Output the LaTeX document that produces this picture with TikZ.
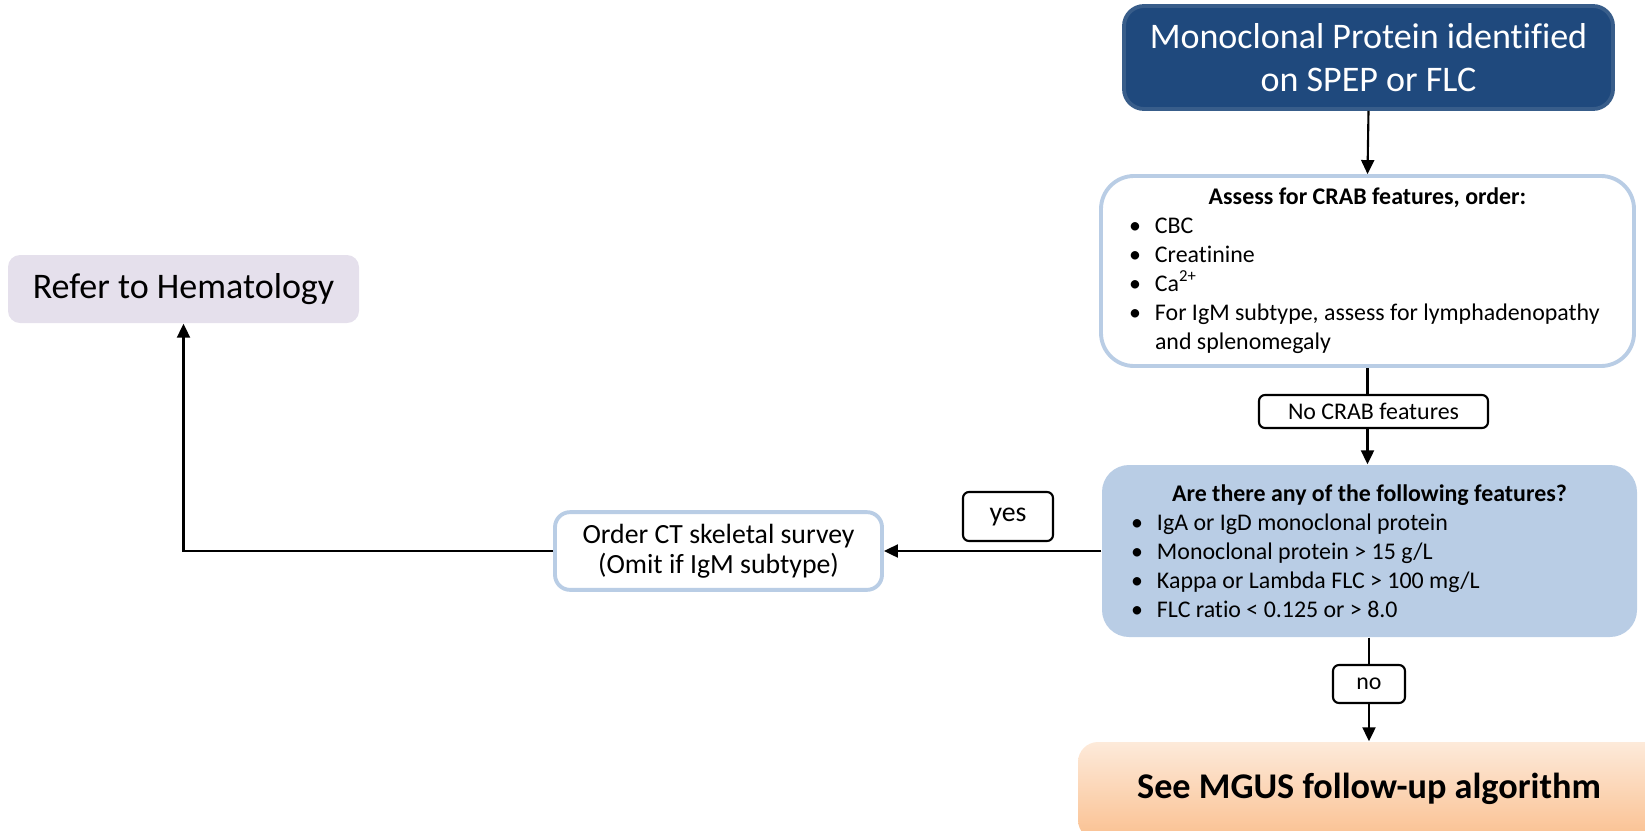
\documentclass[tikz,border=0pt]{standalone}
\usepackage{fontspec}
\setmainfont{Carlito}[Ligatures=NoCommon]
\usetikzlibrary{arrows.meta}
\definecolor{darkblue}{HTML}{1F497D}
\definecolor{darkblueline}{HTML}{385D8A}
\definecolor{paleblue}{HTML}{B9CDE5}
\definecolor{lavender}{HTML}{E5E0EC}
\definecolor{peachtop}{HTML}{FDEADA}
\definecolor{peachbot}{HTML}{FAC090}
\newcommand{\bul}[1]{\par\hangindent=0.26cm\hangafter=1\noindent\makebox[0.26cm][l]{\textbullet}#1}

\begin{document}
\begin{tikzpicture}[font=\fontsize{6.8}{8.25}\selectfont,
  every node/.style={execute at begin node={\spaceskip=0pt\xspaceskip=0pt\relax}},
  bigfont/.style={font=\fontsize{10.25}{12.4}\selectfont},
  midfont/.style={font=\fontsize{7.9}{8.6}\selectfont},
  bluebox/.style={draw=paleblue, line width=1.1pt, fill=white},
  tag/.style={draw, line width=0.6pt, rounded corners=0.06cm, inner sep=0pt},
  link/.style={line width=0.6pt},
  arr/.style={link, -{Triangle[length=0.14cm,width=0.13cm]}}]
\path [use as bounding box, clip] (0,0) rectangle (16.45,8.30);
%\draw[help lines] (0,0) grid (16,8);
\node (mono) [fill=darkblue, draw=darkblueline, line width=1.1pt, rounded corners=0.2cm, text=white, bigfont, align=center, minimum width=4.89cm, minimum height=1.03cm] at (13.685,7.725) {Monoclonal Protein identified\\on SPEP or FLC};
\node (crab) [bluebox, rounded corners=0.33cm, minimum height=1.90cm, text width=4.77cm, inner xsep=0.28cm, align=left] at (13.675,5.59)
  {{\centering\bfseries Assess for CRAB features, order:\par}\bul{CBC}\bul{Creatinine}\bul{Ca\textsuperscript{2+}}\bul{For IgM subtype, assess for lymphadenopathy\newline and splenomegaly}\par\vspace{-0.14cm}};
\node (nocrab) [tag, minimum width=2.29cm, minimum height=0.33cm] at (13.735,4.185) {No CRAB features};
\node (feat) [fill=paleblue, rounded corners=0.27cm, minimum height=1.72cm, text width=4.77cm, inner xsep=0.29cm, align=left] at (13.695,2.79)
  {{\centering\bfseries Are there any of the following features?\par}\bul{IgA or IgD monoclonal protein}\bul{Monoclonal protein > 15 g/L}\bul{Kappa or Lambda FLC > 100 mg/L}\bul{FLC ratio < 0.125 or > 8.0}\par\vspace{-0.1cm}};
\node (no) [tag, minimum width=0.72cm, minimum height=0.38cm] at (13.69,1.46) {no};
\node (mgus) [top color=peachtop, bottom color=peachbot, rounded corners=0.2cm, minimum width=6.2cm, minimum height=0.98cm] at (13.88,0.39) {};
\node (mgustxt) [anchor=base, font=\fontsize{10.3}{12}\selectfont\bfseries] at (13.69,0.32) {See MGUS follow-up algorithm};
\node (yes) [tag, midfont, minimum width=0.90cm, minimum height=0.49cm] at (10.08,3.135) {yes};
\node (ct) [bluebox, midfont, rounded corners=0.15cm, minimum width=3.27cm, minimum height=0.70cm, align=center] at (7.185,2.79) {Order CT skeletal survey\\(Omit if IgM subtype)};
\node (refer) [fill=lavender, rounded corners=0.12cm, minimum width=3.51cm, minimum height=0.68cm, bigfont] at (1.835,5.41) {Refer to Hematology};

\draw [arr] (mono.south) -- (crab.north);
\draw [link] (crab.south) -- (crab.south |- nocrab.north);
\draw [arr] (nocrab.south -| crab.south) -- (feat.north -| crab.south);
\draw [link] (feat.south -| no.north) -- (no.north);
\draw [arr] (no.south) -- (no.south |- mgus.north);
\draw [arr] (feat.west) -- (ct.east);
\draw [arr] (ct.west) -| (refer.south);
\end{tikzpicture}
\end{document}
